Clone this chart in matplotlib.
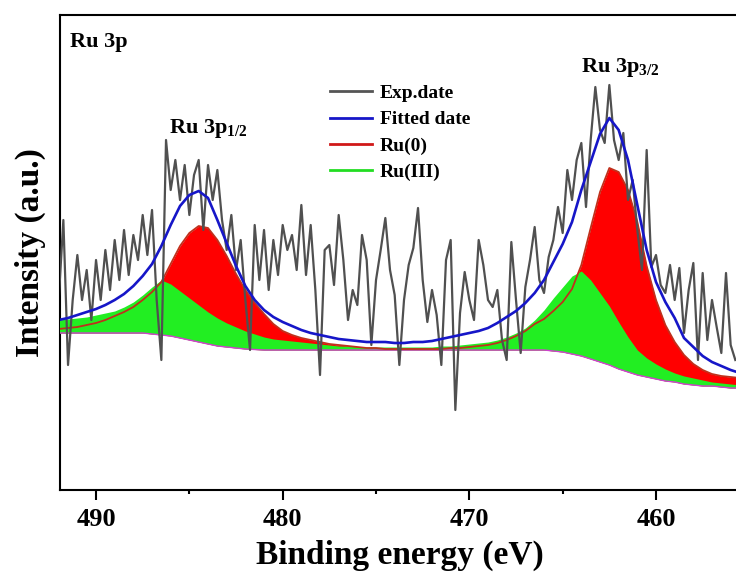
import numpy as np
import matplotlib
matplotlib.use("Agg")
import matplotlib.pyplot as plt
from matplotlib.ticker import MultipleLocator

plt.rcParams['font.family'] = ['Liberation Serif', 'DejaVu Serif']
plt.rcParams['font.weight'] = 'bold'
plt.rcParams['mathtext.fontset'] = 'custom'
plt.rcParams['mathtext.rm'] = 'Liberation Serif:bold'
plt.rcParams['mathtext.default'] = 'rm'

# Ru 3p raw spectrum, 0.25 eV step starting at 492 eV
exp_start = 492.0
exp_step = 0.25
exp_counts = [
    190, 270, 125, 190, 235, 190, 220, 170, 230, 190,
    240, 200, 250, 210, 260, 215, 255, 230, 275, 235,
    280, 190, 130, 350, 300, 330, 290, 325, 275, 315,
    330, 260, 325, 290, 320, 270, 240, 275, 220, 250,
    190, 140, 265, 210, 260, 200, 250, 215, 265, 240,
    255, 220, 285, 215, 265, 200, 115, 240, 245, 205,
    275, 230, 170, 200, 185, 255, 230, 145, 210, 240,
    272, 220, 195, 125, 190, 225, 242, 282, 210, 168,
    200, 175, 125, 230, 250, 80, 177, 218, 190, 170,
    250, 225, 190, 183, 200, 150, 130, 248, 190, 137,
    203, 230, 263, 210, 197, 233, 250, 283, 257, 320,
    290, 330, 347, 283, 350, 403, 360, 347, 405, 350,
    330, 357, 290, 310, 260, 220, 340, 223, 235, 205,
    197, 225, 190, 222, 157, 200, 227, 130, 217, 150,
    190, 163, 137, 217, 145, 130,
]

# fit results, 0.5 eV step starting at 492 eV
fit_start = 492.0
fit_step = 0.5
background = [
    157, 157, 157, 157, 157, 157, 157, 157, 157, 157,
    156, 155, 154, 152, 150, 148, 146, 144, 143, 142,
    141, 140.5, 140, 140, 140, 140, 140, 140, 140, 140,
    140, 140, 140, 140, 140, 140, 140, 140, 140, 140,
    140, 140, 140, 140, 140, 140, 140, 140, 140, 140,
    140, 140, 140, 139, 138, 136, 134, 131, 128, 125,
    121, 118, 115, 113, 111, 109, 108, 106, 105, 104,
    104, 103, 102, 102,
]
ru0 = [
    161, 162, 163, 165, 167, 170, 174, 178, 183, 190,
    198, 208, 226, 244, 257, 264, 262, 250, 234, 216,
    200, 187, 176, 166, 159, 155, 152, 150, 148, 146,
    145, 144, 143, 142, 142, 141, 141, 141, 141, 141,
    141, 141, 142, 142, 143, 144, 145, 147, 150, 154,
    159, 166, 171, 179, 188, 201, 225, 262, 298, 322,
    318, 300, 268, 224, 190, 165, 148, 135, 126, 120,
    116, 114, 113, 112,
]
ru3 = [
    170, 171, 172, 173, 175, 177, 179, 183, 188, 195,
    203, 210, 206, 199, 192, 185, 178, 172, 167, 163,
    159, 156, 153, 151, 150, 149, 148, 147, 146, 145,
    144, 144, 143, 143, 143, 143, 143, 143, 143, 143,
    143, 144, 144, 145, 146, 147, 148, 150, 153, 157,
    162, 170, 180, 192, 203, 214, 219, 210, 197, 184,
    168, 153, 140, 132, 126, 121, 117, 114, 112, 110,
    108, 107, 106, 105,
]
envelope = [
    170, 172, 175, 178, 181, 185, 190, 196, 204, 214,
    226, 244, 265, 284, 295, 299, 292, 270, 247, 224,
    204, 190, 180, 173, 168, 164, 160, 157, 155, 153,
    151, 150, 149, 148, 148, 148, 147, 147, 148, 148,
    149, 151, 153, 155, 157, 159, 162, 167, 173, 179,
    187, 197, 210, 228, 246, 268, 300, 328, 356, 372,
    360, 330, 285, 240, 208, 188, 172, 152, 143, 134,
    128, 124, 120, 117,
]

e_exp = exp_start - exp_step * np.arange(len(exp_counts))
e_fit = fit_start - fit_step * np.arange(len(ru0))

fig = plt.figure(figsize=(7.36, 5.72), dpi=100)
ax = fig.add_axes([60 / 736, 82 / 572, 680 / 736, 475 / 572])

ax.fill_between(e_fit, background, ru0, color='#ff0000', lw=0, zorder=2)
ax.fill_between(e_fit, background, ru3, color='#22ee22', lw=0, zorder=3)
ax.plot(e_fit, background, color='#d040d0', lw=1, zorder=3.5)
ax.plot(e_fit, ru0, color='#c0301c', lw=1.3, zorder=3.6)
ax.plot(e_exp, exp_counts, color='#505050', lw=1.6, zorder=4)
ax.plot(e_fit, envelope, color='#1616c8', lw=1.9, zorder=5)

# legend handles only
ax.plot([], [], color='#555555', lw=2, label='Exp.date')
ax.plot([], [], color='#1616c8', lw=2, label='Fitted date')
ax.plot([], [], color='#d01818', lw=2, label='Ru(0)')
ax.plot([], [], color='#22dd22', lw=2, label='Ru(III)')
handles, labels = ax.get_legend_handles_labels()
ax.legend(handles[-4:], labels[-4:], loc='upper left', bbox_to_anchor=(0.385, 0.87),
          frameon=False, fontsize=14, handlelength=2.2, handletextpad=0.4,
          labelspacing=0.45, borderaxespad=0)

ax.text(0.015, 0.933, 'Ru 3p', transform=ax.transAxes, fontsize=16,
        fontweight='bold', va='baseline', ha='left')
ax.text(486.1, 357, r'Ru 3p$_{1/2}$', fontsize=16, fontweight='bold',
        va='baseline', ha='left')
ax.text(464.0, 418, r'Ru 3p$_{3/2}$', fontsize=16, fontweight='bold',
        va='baseline', ha='left')

ax.set_xlim(491.93, 455.5)
ax.set_ylim(0, 475)
ax.xaxis.set_major_locator(MultipleLocator(10))
ax.xaxis.set_minor_locator(MultipleLocator(5))
ax.tick_params(axis='x', which='major', direction='out', length=7, width=1.5,
               labelsize=19, pad=6)
ax.tick_params(axis='x', which='minor', direction='out', length=3, width=1.5)
ax.tick_params(axis='y', left=False, labelleft=False)
for sp in ax.spines.values():
    sp.set_linewidth(1.5)

ax.set_xlabel('Binding energy (eV)', fontsize=24, fontweight='bold', labelpad=6)
ax.set_ylabel('Intensity (a.u.)', fontsize=24, fontweight='bold', labelpad=10)

fig.savefig('out.png', dpi=100)
